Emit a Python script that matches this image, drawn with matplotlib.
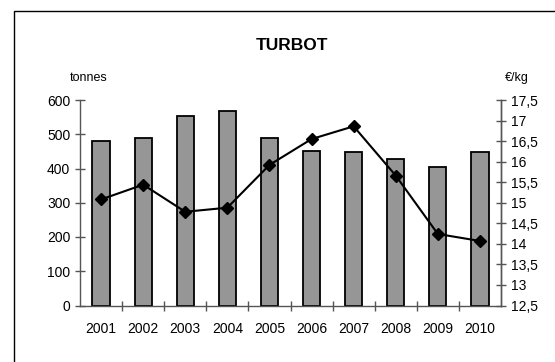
import matplotlib
matplotlib.use("Agg")
import matplotlib.pyplot as plt
from matplotlib.patches import Rectangle
import numpy as np

plt.rcParams['font.family'] = ['Liberation Sans', 'DejaVu Sans']

years = ['2001', '2002', '2003', '2004', '2005', '2006', '2007', '2008', '2009', '2010']
tonnes = [481, 490, 552, 567, 490, 450, 447, 429, 403, 449]
price = [15.08, 15.44, 14.78, 14.88, 15.92, 16.55, 16.86, 15.66, 14.24, 14.07]
left_ticks = [0, 100, 200, 300, 400, 500, 600]
right_ticks = [12.5, 13, 13.5, 14, 14.5, 15, 15.5, 16, 16.5, 17, 17.5]
right_labels = ['12,5', '13', '13,5', '14', '14,5', '15', '15,5', '16', '16,5', '17', '17,5']

W, H = 555, 362
fig = plt.figure(figsize=(W / 100, H / 100), dpi=100)
fig.patch.set_facecolor('white')

# outer frame (extends past right/bottom edge)
fig.add_artist(Rectangle((14 / W, -0.1), 1.2, (H - 10.5) / H + 0.1, transform=fig.transFigure,
                         fill=False, edgecolor='black', linewidth=1.0))

ax = fig.add_axes([80 / W, (H - 305.5) / H, 421 / W, 205.5 / H])
x = np.arange(len(years))
ax.bar(x, tonnes, width=0.41, color='#969696', edgecolor='black', linewidth=1.3, zorder=2)
ax.set_xlim(-0.5, len(years) - 0.5)
ax.set_ylim(0, 600)
ax.set_yticks(left_ticks)
ax.set_yticklabels([str(t) for t in left_ticks])
ax.set_xticks(x)
ax.set_xticklabels(years)
ax.set_xticks(np.arange(0.5, len(years) - 1, 1), minor=True)
ax.tick_params(axis='x', which='major', length=0, pad=12, labelsize=10)
ax.tick_params(axis='x', which='minor', direction='inout', length=7, width=1, color='#555555')
ax.tick_params(axis='y', direction='inout', length=7, width=1, color='#555555', labelsize=10, pad=3.5)
for s in ['top']:
    ax.spines[s].set_visible(False)
for s in ['left', 'bottom', 'right']:
    ax.spines[s].set_color('#555555')
    ax.spines[s].set_linewidth(1)

ax2 = ax.twinx()
ax2.plot(x, price, color='black', linewidth=1.5, marker='D', markersize=6.5, zorder=3)
ax2.set_ylim(12.5, 17.5)
ax2.set_yticks(right_ticks)
ax2.set_yticklabels(right_labels)
ax2.tick_params(axis='y', direction='inout', length=7, width=1, color='#555555', labelsize=10, pad=3.5)
for s in ['top', 'left', 'bottom']:
    ax2.spines[s].set_visible(False)
ax2.spines['right'].set_color('#555555')
ax2.spines['right'].set_linewidth(1)

fig.text(291.5 / W, 1 - 46 / H, 'TURBOT', ha='center', va='center', fontsize=12.5, fontweight='bold')
fig.text(89 / W, 1 - 78 / H, 'tonnes', ha='center', va='center', fontsize=9)
fig.text(517 / W, 1 - 78 / H, '€/kg', ha='center', va='center', fontsize=9)

fig.savefig('out.png', dpi=100)
